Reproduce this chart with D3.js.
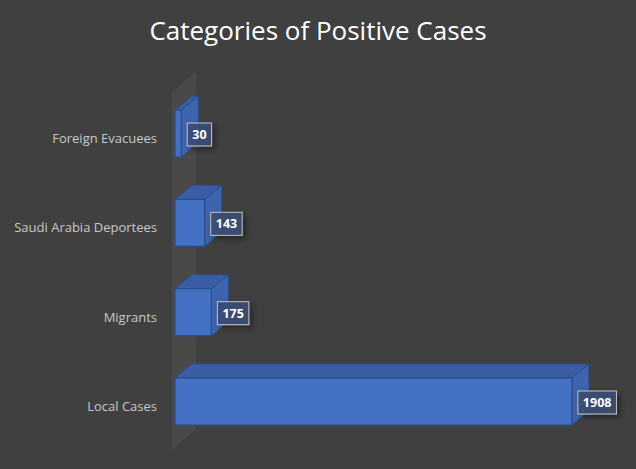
<!DOCTYPE html>
<html>
<head>
<meta charset="utf-8">
<script src="https://cdn.jsdelivr.net/npm/d3@7"></script>
<style>
  body { margin: 0; background: #404040; }
  svg { display: block; }
</style>
</head>
<body>
<div id="chart"></div>
<script>
var svgWidth = 636;
var svgHeight = 469;

// data
var categories = ["Foreign Evacuees", "Saudi Arabia Deportees", "Migrants", "Local Cases"];
var cases = [30, 143, 175, 1908];
var xMax = 2000;

// 3d depth of the bars and of the back wall
var depth = { dx: 17, dy: -14 };
var wallDepth = { dx: 24, dy: -21 };

var svg = d3.select("#chart")
  .append("svg")
  .attr("width", svgWidth)
  .attr("height", svgHeight);

svg.append("rect")
  .attr("width", svgWidth)
  .attr("height", svgHeight)
  .attr("fill", "#404040");

// drop shadow for the value boxes
var defs = svg.append("defs");
var shadow = defs.append("filter")
  .attr("id", "shadow")
  .attr("x", "-30%").attr("y", "-30%")
  .attr("width", "180%").attr("height", "200%");
shadow.append("feDropShadow")
  .attr("dx", 3).attr("dy", 3)
  .attr("stdDeviation", 3)
  .attr("flood-color", "#000")
  .attr("flood-opacity", 0.45);

// title
svg.append("text")
  .attr("x", 318)
  .attr("y", 40)
  .attr("text-anchor", "middle")
  .attr("fill", "#ffffff")
  .style("font-family", "'Open Sans', 'Noto Sans', sans-serif")
  .style("font-size", "26px")
  .text("Categories of Positive Cases");

var xScale = d3.scaleLinear()
  .domain([0, xMax])
  .range([175, 591]);

var yScale = d3.scaleBand()
  .domain(categories)
  .range([110, 425])
  .paddingInner(0.474)
  .paddingOuter(0);

var x0 = xScale(0);

// side wall behind the category axis
var wallLeft = x0 - 3;
var wallTop = yScale.range()[0] - 18;
var wallBottom = yScale.range()[1] + 25;
svg.append("path")
  .attr("d", d3.line()([
    [wallLeft, wallBottom],
    [wallLeft, wallTop],
    [wallLeft + wallDepth.dx, wallTop + wallDepth.dy],
    [wallLeft + wallDepth.dx, wallBottom + wallDepth.dy]
  ]) + "Z")
  .attr("fill", "#4c4a49")
  .attr("opacity", 0.9);

// category labels
svg.append("g")
  .selectAll("text")
  .data(categories)
  .enter()
  .append("text")
  .attr("x", 157)
  .attr("y", d => yScale(d) + yScale.bandwidth() / 2 + 5)
  .attr("dy", "0.35em")
  .attr("text-anchor", "end")
  .attr("fill", "#c8c8c8")
  .style("font-family", "'Open Sans', 'Noto Sans', sans-serif")
  .style("font-size", "13px")
  .text(d => d);

var rows = categories.map((c, i) => ({ cat: c, value: cases[i] }));

var bars = svg.append("g")
  .selectAll("g")
  .data(rows)
  .enter()
  .append("g");

var bw = yScale.bandwidth();

// top face
bars.append("path")
  .attr("d", d => {
    var x1 = xScale(d.value), y = yScale(d.cat);
    return d3.line()([[x0, y], [x0 + depth.dx, y + depth.dy],
      [x1 + depth.dx, y + depth.dy], [x1, y]]) + "Z";
  })
  .attr("fill", "#3a5da4")
  .attr("stroke", "#2c4d8c")
  .attr("stroke-width", 1)
  .attr("stroke-linejoin", "round");

// right face
bars.append("path")
  .attr("d", d => {
    var x1 = xScale(d.value), y = yScale(d.cat);
    return d3.line()([[x1, y], [x1 + depth.dx, y + depth.dy],
      [x1 + depth.dx, y + bw + depth.dy], [x1, y + bw]]) + "Z";
  })
  .attr("fill", "#3e64ae")
  .attr("stroke", "#2c4d8c")
  .attr("stroke-width", 1)
  .attr("stroke-linejoin", "round");

// front face
bars.append("rect")
  .attr("x", x0)
  .attr("y", d => yScale(d.cat))
  .attr("width", d => xScale(d.value) - x0)
  .attr("height", bw)
  .attr("fill", "#4471c3")
  .attr("stroke", "#2c4d8c")
  .attr("stroke-width", 1.2);

// value boxes
var labels = bars.append("g")
  .attr("transform", d => `translate(${xScale(d.value) + 6}, ${yScale(d.cat) + bw / 2 + 1})`);

labels.append("text")
  .attr("x", 5)
  .attr("y", 0)
  .attr("dy", "0.35em")
  .attr("fill", "#ffffff")
  .style("font-family", "'Open Sans', 'Noto Sans', sans-serif")
  .style("font-size", "12.5px")
  .style("font-weight", "bold")
  .text(d => d.value);

labels.each(function() {
  var g = d3.select(this);
  var w = g.select("text").node().getComputedTextLength();
  g.insert("rect", "text")
    .attr("x", 0)
    .attr("y", -11.5)
    .attr("width", w + 10)
    .attr("height", 23)
    .attr("fill", "#3b4d76")
    .attr("fill-opacity", 0.9)
    .attr("stroke", "#c0c0c0")
    .attr("stroke-width", 1)
    .attr("filter", "url(#shadow)");
});
</script>
</body>
</html>
